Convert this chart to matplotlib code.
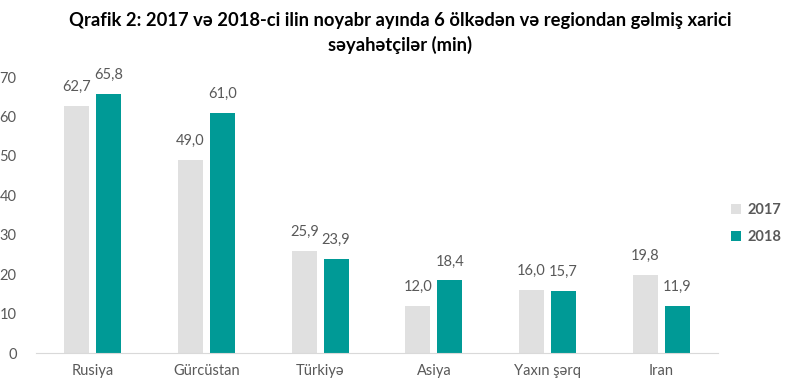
import matplotlib
matplotlib.use("Agg")
import matplotlib.pyplot as plt
import numpy as np

categories = ["Rusiya", "Gürcüstan", "Türkiyə", "Asiya", "Yaxın şərq", "Iran"]
values_2017 = [62.7, 49.0, 25.9, 12.0, 16.0, 19.8]
values_2018 = [65.8, 61.0, 23.9, 18.4, 15.7, 11.9]
series_names = ["2017", "2018"]
yticks = [0, 10, 20, 30, 40, 50, 60, 70]

plt.rcParams['font.family'] = ['Lato', 'DejaVu Sans']

fig = plt.figure(figsize=(8, 3.89), dpi=100)
ax = fig.add_axes([0.045, 0.0925, 0.8525, 0.7095])

x = np.arange(len(categories))
w = 0.22
off = 0.14
c17 = "#E0E0E0"
c18 = "#009A96"
b1 = ax.bar(x - off, values_2017, w, color=c17, label=series_names[0])
b2 = ax.bar(x + off, values_2018, w, color=c18, label=series_names[1])

tc = "#595959"
for bars, vals in ((b1, values_2017), (b2, values_2018)):
    for r, v in zip(bars, vals):
        ax.text(r.get_x() + r.get_width() / 2, v + 3.0, f"{v:.1f}".replace(".", ","),
                ha="center", va="bottom", fontsize=10.5, color=tc)

ax.set_xlim(-0.5, len(categories) - 0.5)
ax.set_ylim(0, 70)
ax.set_yticks(yticks)
ax.set_yticklabels([str(t) for t in yticks], fontsize=10.5, color=tc)
ax.set_xticks(x)
ax.set_xticklabels(categories, fontsize=10.5, color=tc)
ax.tick_params(axis="both", length=0)
ax.tick_params(axis="y", pad=14)
ax.tick_params(axis="x", pad=8)
for s in ["top", "right", "left"]:
    ax.spines[s].set_visible(False)
ax.spines["bottom"].set_color("#D9D9D9")

fig.text(0.5, 0.915, "Qrafik 2: 2017 və 2018-ci ilin noyabr ayında 6 ölkədən və regiondan gəlmiş xarici\nsəyahətçilər (min)",
         ha="center", va="center", fontsize=13.2, fontweight="bold", color="#000000", linespacing=1.45)

leg = ax.legend(loc="center left", bbox_to_anchor=(1.0, 0.47), frameon=False,
                handlelength=0.7, handleheight=0.7, handletextpad=0.4,
                labelspacing=0.9, prop={"weight": "bold", "size": 10.5})
for t in leg.get_texts():
    t.set_color(tc)

fig.savefig("out.png", dpi=100)
